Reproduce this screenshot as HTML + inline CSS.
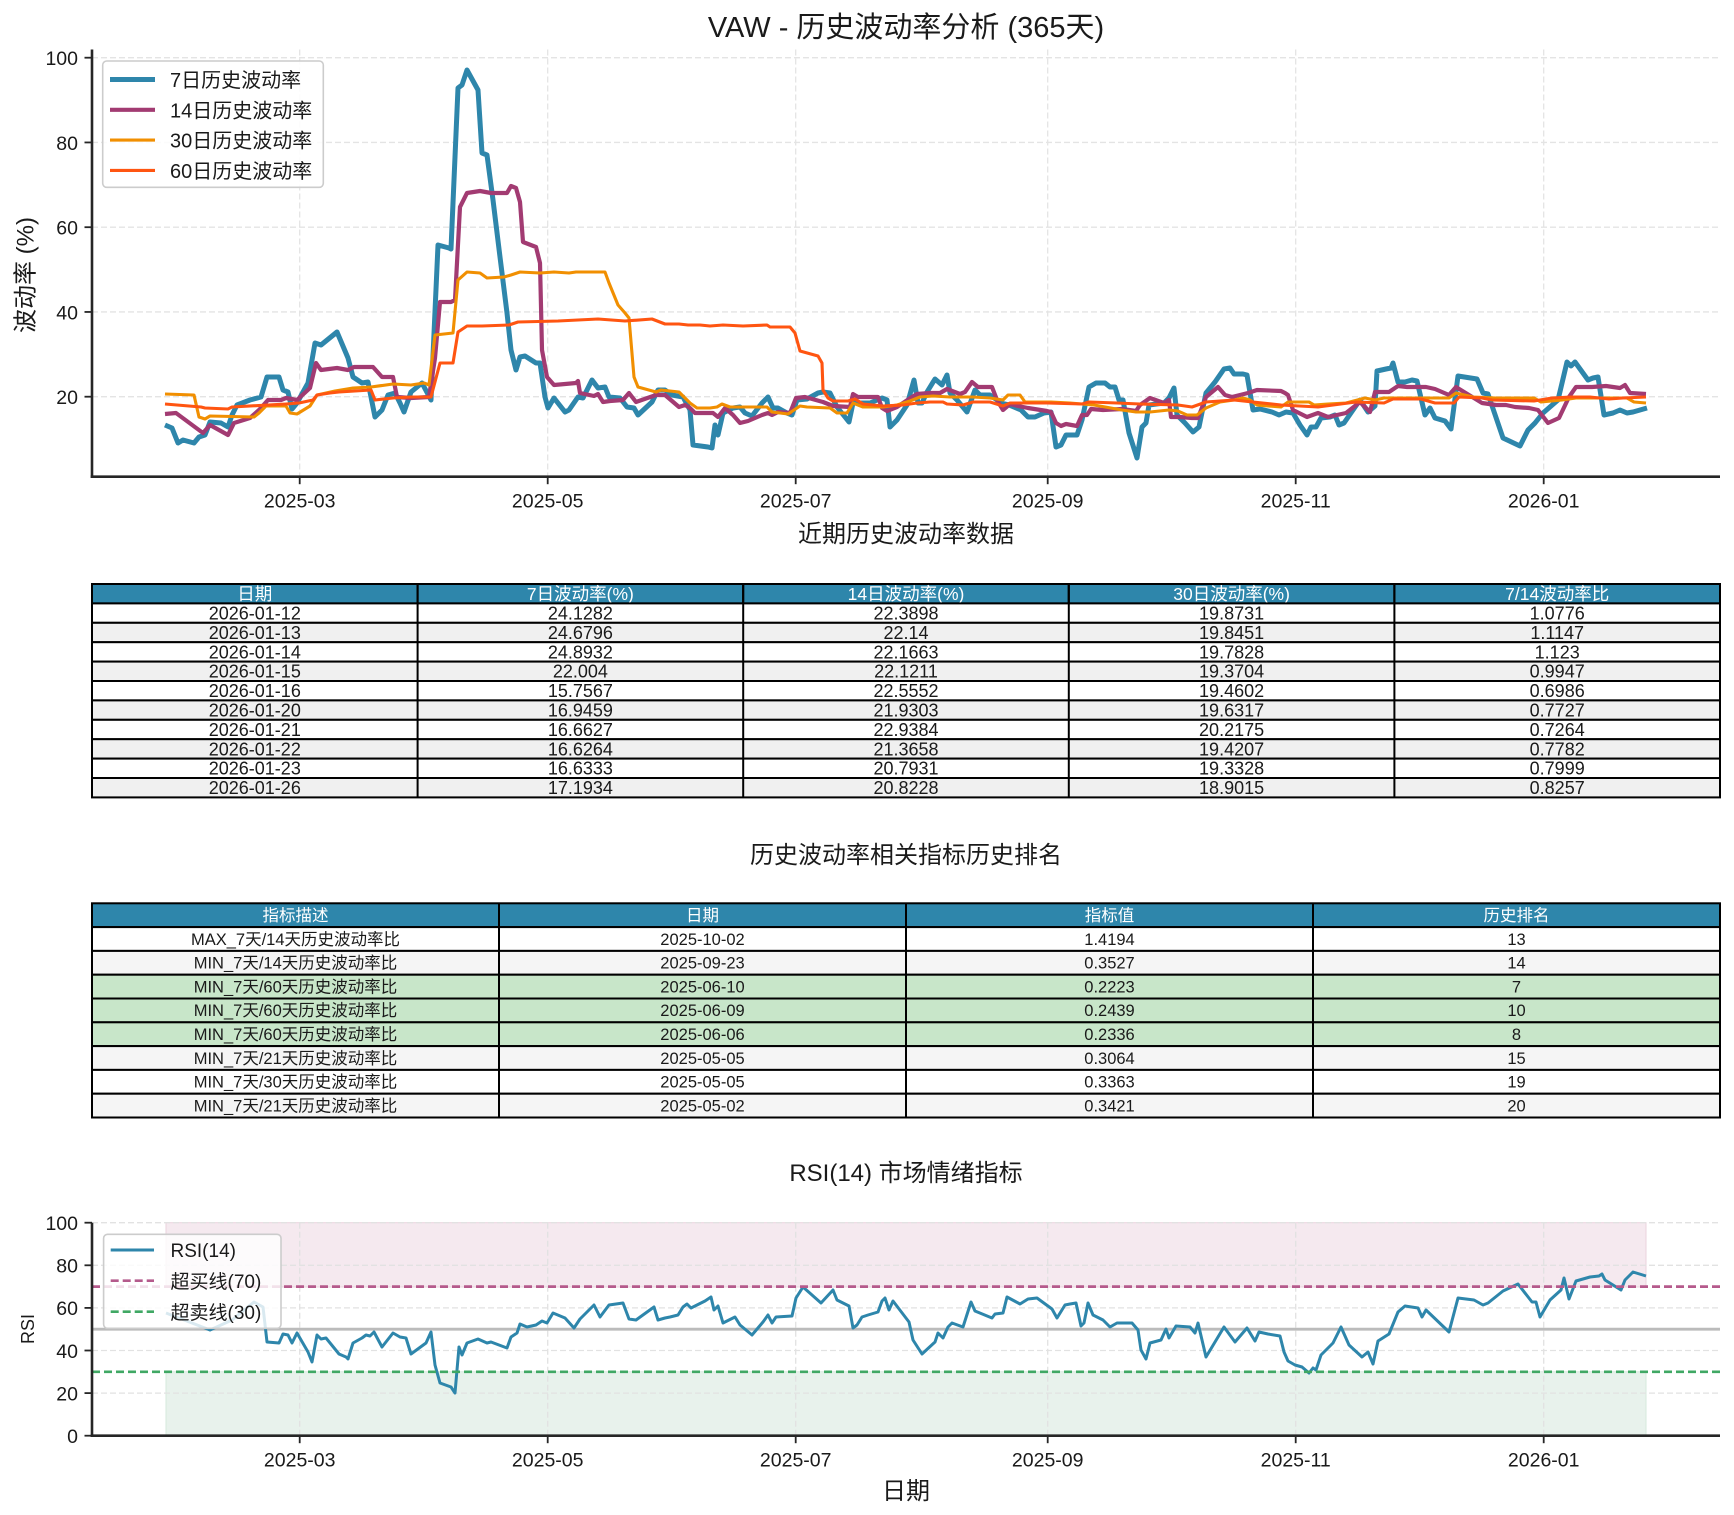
<!DOCTYPE html>
<html><head><meta charset="utf-8">
<style>
html,body{margin:0;padding:0;background:#fff;}
svg{display:block;}
text{font-family:"Liberation Sans","Noto Sans CJK SC",sans-serif;fill:#1a1a1a;}
</style></head>
<body>
<svg width="1734" height="1515" viewBox="0 0 1734 1515" xmlns="http://www.w3.org/2000/svg">
<rect x="0" y="0" width="1734" height="1515" fill="#fff"/>

<!-- ================= TOP CHART ================= -->
<text x="906" y="37" font-size="29" text-anchor="middle">VAW - 历史波动率分析 (365天)</text>

<!-- grid -->
<g stroke="#e4e4e4" stroke-width="1.3" stroke-dasharray="6,3" fill="none">
<line x1="92" y1="57.7" x2="1720" y2="57.7"/>
<line x1="92" y1="142.45" x2="1720" y2="142.45"/>
<line x1="92" y1="227.2" x2="1720" y2="227.2"/>
<line x1="92" y1="311.95" x2="1720" y2="311.95"/>
<line x1="92" y1="396.7" x2="1720" y2="396.7"/>
<line x1="299.7" y1="49.5" x2="299.7" y2="476.7"/>
<line x1="547.7" y1="49.5" x2="547.7" y2="476.7"/>
<line x1="795.7" y1="49.5" x2="795.7" y2="476.7"/>
<line x1="1047.7" y1="49.5" x2="1047.7" y2="476.7"/>
<line x1="1295.7" y1="49.5" x2="1295.7" y2="476.7"/>
<line x1="1543.7" y1="49.5" x2="1543.7" y2="476.7"/>
</g>

<!-- series -->
<g fill="none" stroke-linejoin="round" stroke-linecap="butt">
<polyline stroke="#2E86AB" stroke-width="5" points="165,425 172,428 178,443 183,440 194,443 199,437 205,435 210,422 221,423 228,427 232,415 237,405 250,400 261,397 267,377 279,377 283,390 288,392 292,409 297,403 308,383 315,343 321,345 337,332 348,358 353,377 362,383 368,382 375,417 382,410 388,395 395,393 400,403 404,412 411,392 422,383 431,400 438,245 449,248 451,249 458,88 462,85 467,70 478,90 482,153 487,155 493,200 500,257 507,313 511,350 516,370 520,357 525,356 536,363 540,363 545,397 548,408 554,398 565,412 569,410 578,397 583,398 592,380 598,388 605,387 609,397 620,398 627,407 634,408 638,415 652,402 658,390 665,390 672,395 683,397 690,410 693,445 708,447 712,448 715,425 718,435 723,413 733,408 740,407 745,413 752,416 762,403 768,397 773,408 778,408 787,413 792,415 797,400 807,399 818,393 823,392 830,393 837,407 849,422 853,403 860,403 870,403 882,398 887,400 890,427 897,420 907,405 914,380 918,403 922,403 927,392 935,379 942,385 947,375 950,393 957,400 967,412 975,390 980,395 990,395 997,400 1000,403 1009,405 1021,410 1028,417 1035,417 1044,413 1051,412 1056,447 1061,445 1066,435 1077,435 1082,420 1089,387 1096,383 1105,383 1110,387 1115,387 1119,400 1123,400 1129,433 1137,458 1142,427 1146,423 1149,405 1164,403 1169,398 1174,388 1177,415 1185,423 1193,432 1199,427 1206,393 1215,382 1224,369 1230,368 1234,374 1243,374 1247,375 1253,410 1260,409 1272,412 1279,415 1286,412 1293,413 1300,425 1307,435 1311,427 1316,427 1321,418 1330,417 1335,415 1339,425 1344,423 1353,410 1360,400 1368,412 1375,406 1377,371 1386,369 1391,368 1393,363 1398,382 1405,382 1412,380 1417,381 1425,415 1430,408 1435,418 1445,421 1451,429 1458,376 1477,379 1483,393 1488,394 1503,438 1520,446 1528,430 1535,423 1543,413 1558,400 1567,362 1571,366 1575,362 1588,380 1593,378 1598,377 1604,415 1613,413 1620,410 1627,413 1633,412 1647,408"/>
<polyline stroke="#A23B72" stroke-width="4.2" points="165,414 176,413 203,433 210,425 228,435 234,423 250,418 259,410 268,400 281,400 286,398 297,400 310,388 316,363 321,370 337,368 348,370 354,367 373,367 382,377 393,377 397,397 411,398 429,397 435,358 440,302 451,302 455,300 460,207 467,193 480,191 491,193 507,193 511,186 516,188 520,202 523,242 536,247 540,263 542,350 547,377 554,385 576,383 578,381 580,393 594,396 598,394 603,402 610,401 623,400 629,393 636,402 656,395 665,395 679,407 685,405 690,408 695,413 713,413 718,417 725,408 733,415 740,423 748,421 762,415 768,413 772,415 778,412 790,413 796,398 805,397 823,402 833,406 850,407 853,394 858,397 878,397 882,408 887,411 897,407 912,397 917,394 930,393 940,393 947,389 960,394 965,392 972,382 978,387 992,387 997,400 1003,410 1010,404 1018,406 1028,408 1047,411 1051,412 1056,423 1061,426 1066,424 1077,426 1082,415 1087,415 1091,409 1103,410 1122,409 1136,411 1140,405 1150,398 1164,403 1169,400 1171,417 1180,417 1192,418 1198,418 1206,397 1218,387 1225,395 1232,397 1248,393 1257,390 1281,391 1285,393 1288,395 1293,410 1307,417 1318,413 1328,417 1346,413 1360,402 1370,412 1375,392 1389,392 1398,386 1407,387 1426,387 1435,389 1449,395 1456,387 1482,403 1496,405 1506,405 1515,407 1529,408 1538,410 1548,423 1559,418 1569,397 1576,387 1592,387 1606,386 1620,388 1625,385 1630,393 1646,394"/>
<polyline stroke="#F18F01" stroke-width="3.1" points="165,394 194,395 199,417 205,419 210,416 254,417 259,413 266,406 286,406 290,413 297,414 310,406 317,395 335,391 353,388 371,387 393,384 411,385 424,383 429,385 435,335 453,333 458,280 467,272 480,273 487,278 504,277 511,275 520,272 540,273 554,272 569,273 576,272 605,272 609,283 618,305 625,313 629,318 634,377 638,387 656,392 661,390 679,392 690,403 697,408 710,408 717,407 722,404 730,407 743,407 767,407 772,412 788,414 800,406 807,407 830,408 837,413 847,413 853,403 863,407 883,407 897,405 910,401 920,397 933,396 950,397 963,397 973,397 990,398 1003,400 1008,395 1020,395 1025,402 1051,402 1070,403 1094,405 1122,410 1136,412 1150,412 1169,410 1178,411 1187,415 1197,415 1206,408 1220,402 1234,400 1243,398 1250,400 1257,405 1281,407 1288,402 1309,402 1314,405 1328,404 1346,403 1365,398 1375,400 1384,398 1403,398 1426,398 1449,398 1456,393 1473,397 1496,398 1515,398 1534,398 1541,402 1562,400 1576,398 1609,398 1627,398 1634,402 1646,403"/>
<polyline stroke="#FF5511" stroke-width="3.1" points="165,404 201,407 205,408 228,409 232,407 268,405 286,404 299,403 313,400 317,395 330,393 339,392 371,390 375,400 393,398 411,397 431,397 440,363 453,363 458,332 467,326 482,326 509,325 518,322 558,321 598,319 625,321 652,319 665,324 679,324 688,325 700,325 710,326 723,325 743,326 767,325 770,327 790,327 795,333 800,351 818,356 822,363 823,390 828,398 833,401 848,401 855,399 863,404 883,406 903,405 917,403 930,402 943,402 947,404 963,405 973,402 990,402 1003,406 1010,403 1047,403 1082,404 1089,402 1117,403 1140,404 1178,405 1192,407 1206,402 1234,400 1281,405 1318,407 1356,402 1384,403 1393,399 1421,399 1435,403 1454,403 1459,397 1482,398 1492,400 1534,401 1552,398 1571,397 1590,397 1609,399 1623,398 1646,397"/>
</g>

<!-- spines & ticks -->
<g stroke="#262626" stroke-width="2.6">
<line x1="92" y1="49.5" x2="92" y2="478"/>
<line x1="90.7" y1="476.7" x2="1720" y2="476.7"/>
</g>
<g stroke="#262626" stroke-width="1.8">
<line x1="84.5" y1="57.7" x2="92" y2="57.7"/>
<line x1="84.5" y1="142.45" x2="92" y2="142.45"/>
<line x1="84.5" y1="227.2" x2="92" y2="227.2"/>
<line x1="84.5" y1="311.95" x2="92" y2="311.95"/>
<line x1="84.5" y1="396.7" x2="92" y2="396.7"/>
<line x1="299.7" y1="476.7" x2="299.7" y2="484.2"/>
<line x1="547.7" y1="476.7" x2="547.7" y2="484.2"/>
<line x1="795.7" y1="476.7" x2="795.7" y2="484.2"/>
<line x1="1047.7" y1="476.7" x2="1047.7" y2="484.2"/>
<line x1="1295.7" y1="476.7" x2="1295.7" y2="484.2"/>
<line x1="1543.7" y1="476.7" x2="1543.7" y2="484.2"/>
</g>
<g font-size="19.5" text-anchor="end">
<text x="78" y="65">100</text>
<text x="78" y="149.8">80</text>
<text x="78" y="234.5">60</text>
<text x="78" y="319.3">40</text>
<text x="78" y="404">20</text>
</g>
<g font-size="19.5" text-anchor="middle">
<text x="299.7" y="507.5">2025-03</text>
<text x="547.7" y="507.5">2025-05</text>
<text x="795.7" y="507.5">2025-07</text>
<text x="1047.7" y="507.5">2025-09</text>
<text x="1295.7" y="507.5">2025-11</text>
<text x="1543.7" y="507.5">2026-01</text>
</g>
<text transform="translate(26,275) rotate(-90)" font-size="24" text-anchor="middle" dominant-baseline="central">波动率 (%)</text>

<!-- legend -->
<rect x="102.7" y="61" width="220.6" height="126.3" rx="4" fill="#fff" fill-opacity="0.85" stroke="#cccccc" stroke-width="1.6"/>
<line x1="110" y1="79.5" x2="155" y2="79.5" stroke="#2E86AB" stroke-width="5"/>
<line x1="110" y1="109.8" x2="155" y2="109.8" stroke="#A23B72" stroke-width="4.2"/>
<line x1="110" y1="140.1" x2="155" y2="140.1" stroke="#F18F01" stroke-width="3.1"/>
<line x1="110" y1="170.4" x2="155" y2="170.4" stroke="#FF5511" stroke-width="3.1"/>
<g font-size="20">
<text x="170" y="87">7日历史波动率</text>
<text x="170" y="117.3">14日历史波动率</text>
<text x="170" y="147.6">30日历史波动率</text>
<text x="170" y="177.9">60日历史波动率</text>
</g>

<!-- ================= TABLE 1 ================= -->
<text x="906" y="542" font-size="24" text-anchor="middle">近期历史波动率数据</text>
<g stroke="#000" stroke-width="2">
<rect x="92" y="584" width="325.6" height="19.4" fill="#2E86AB"/>
<rect x="417.6" y="584" width="325.6" height="19.4" fill="#2E86AB"/>
<rect x="743.2" y="584" width="325.6" height="19.4" fill="#2E86AB"/>
<rect x="1068.8" y="584" width="325.6" height="19.4" fill="#2E86AB"/>
<rect x="1394.4" y="584" width="325.6" height="19.4" fill="#2E86AB"/>
</g>
<g font-size="17.5" text-anchor="middle">
<text x="254.8" y="600" style="fill:#fff">日期</text>
<text x="580.4" y="600" style="fill:#fff">7日波动率(%)</text>
<text x="906" y="600" style="fill:#fff">14日波动率(%)</text>
<text x="1231.6" y="600" style="fill:#fff">30日波动率(%)</text>
<text x="1557.2" y="600" style="fill:#fff">7/14波动率比</text>
</g>
<g stroke="#000" stroke-width="2">
<rect x="92" y="603.4" width="1628" height="19.4" fill="#ffffff"/>
<rect x="92" y="622.8" width="1628" height="19.4" fill="#f0f0f0"/>
<rect x="92" y="642.2" width="1628" height="19.4" fill="#ffffff"/>
<rect x="92" y="661.6" width="1628" height="19.4" fill="#f0f0f0"/>
<rect x="92" y="681" width="1628" height="19.4" fill="#ffffff"/>
<rect x="92" y="700.4" width="1628" height="19.4" fill="#f0f0f0"/>
<rect x="92" y="719.8" width="1628" height="19.4" fill="#ffffff"/>
<rect x="92" y="739.2" width="1628" height="19.4" fill="#f0f0f0"/>
<rect x="92" y="758.6" width="1628" height="19.4" fill="#ffffff"/>
<rect x="92" y="778" width="1628" height="19.4" fill="#f0f0f0"/>
<line x1="417.6" y1="584" x2="417.6" y2="797.4"/>
<line x1="743.2" y1="584" x2="743.2" y2="797.4"/>
<line x1="1068.8" y1="584" x2="1068.8" y2="797.4"/>
<line x1="1394.4" y1="584" x2="1394.4" y2="797.4"/>
</g>
<g font-size="18" text-anchor="middle">
<text x="254.8" y="619.5">2026-01-12</text><text x="580.4" y="619.5">24.1282</text><text x="906" y="619.5">22.3898</text><text x="1231.6" y="619.5">19.8731</text><text x="1557.2" y="619.5">1.0776</text>
<text x="254.8" y="638.9">2026-01-13</text><text x="580.4" y="638.9">24.6796</text><text x="906" y="638.9">22.14</text><text x="1231.6" y="638.9">19.8451</text><text x="1557.2" y="638.9">1.1147</text>
<text x="254.8" y="658.3">2026-01-14</text><text x="580.4" y="658.3">24.8932</text><text x="906" y="658.3">22.1663</text><text x="1231.6" y="658.3">19.7828</text><text x="1557.2" y="658.3">1.123</text>
<text x="254.8" y="677.7">2026-01-15</text><text x="580.4" y="677.7">22.004</text><text x="906" y="677.7">22.1211</text><text x="1231.6" y="677.7">19.3704</text><text x="1557.2" y="677.7">0.9947</text>
<text x="254.8" y="697.1">2026-01-16</text><text x="580.4" y="697.1">15.7567</text><text x="906" y="697.1">22.5552</text><text x="1231.6" y="697.1">19.4602</text><text x="1557.2" y="697.1">0.6986</text>
<text x="254.8" y="716.5">2026-01-20</text><text x="580.4" y="716.5">16.9459</text><text x="906" y="716.5">21.9303</text><text x="1231.6" y="716.5">19.6317</text><text x="1557.2" y="716.5">0.7727</text>
<text x="254.8" y="735.9">2026-01-21</text><text x="580.4" y="735.9">16.6627</text><text x="906" y="735.9">22.9384</text><text x="1231.6" y="735.9">20.2175</text><text x="1557.2" y="735.9">0.7264</text>
<text x="254.8" y="755.3">2026-01-22</text><text x="580.4" y="755.3">16.6264</text><text x="906" y="755.3">21.3658</text><text x="1231.6" y="755.3">19.4207</text><text x="1557.2" y="755.3">0.7782</text>
<text x="254.8" y="774.7">2026-01-23</text><text x="580.4" y="774.7">16.6333</text><text x="906" y="774.7">20.7931</text><text x="1231.6" y="774.7">19.3328</text><text x="1557.2" y="774.7">0.7999</text>
<text x="254.8" y="794.1">2026-01-26</text><text x="580.4" y="794.1">17.1934</text><text x="906" y="794.1">20.8228</text><text x="1231.6" y="794.1">18.9015</text><text x="1557.2" y="794.1">0.8257</text>
</g>

<!-- ================= TABLE 2 ================= -->
<text x="906" y="863" font-size="24" text-anchor="middle">历史波动率相关指标历史排名</text>
<g stroke="#000" stroke-width="2">
<rect x="92" y="903.3" width="1628" height="23.8" fill="#2E86AB"/>
<rect x="92" y="927.1" width="1628" height="23.8" fill="#ffffff"/>
<rect x="92" y="950.9" width="1628" height="23.8" fill="#f5f5f5"/>
<rect x="92" y="974.7" width="1628" height="23.8" fill="#c8e6c9"/>
<rect x="92" y="998.5" width="1628" height="23.8" fill="#c8e6c9"/>
<rect x="92" y="1022.3" width="1628" height="23.8" fill="#c8e6c9"/>
<rect x="92" y="1046.1" width="1628" height="23.8" fill="#f5f5f5"/>
<rect x="92" y="1069.9" width="1628" height="23.8" fill="#ffffff"/>
<rect x="92" y="1093.7" width="1628" height="23.8" fill="#f5f5f5"/>
<line x1="499" y1="903.3" x2="499" y2="1117.5"/>
<line x1="906" y1="903.3" x2="906" y2="1117.5"/>
<line x1="1313" y1="903.3" x2="1313" y2="1117.5"/>
</g>
<g font-size="16.5" text-anchor="middle">
<text x="295.5" y="921" style="fill:#fff">指标描述</text><text x="702.5" y="921" style="fill:#fff">日期</text><text x="1109.5" y="921" style="fill:#fff">指标值</text><text x="1516.5" y="921" style="fill:#fff">历史排名</text>
<text x="295.5" y="944.8">MAX_7天/14天历史波动率比</text><text x="702.5" y="944.8">2025-10-02</text><text x="1109.5" y="944.8">1.4194</text><text x="1516.5" y="944.8">13</text>
<text x="295.5" y="968.6">MIN_7天/14天历史波动率比</text><text x="702.5" y="968.6">2025-09-23</text><text x="1109.5" y="968.6">0.3527</text><text x="1516.5" y="968.6">14</text>
<text x="295.5" y="992.4">MIN_7天/60天历史波动率比</text><text x="702.5" y="992.4">2025-06-10</text><text x="1109.5" y="992.4">0.2223</text><text x="1516.5" y="992.4">7</text>
<text x="295.5" y="1016.2">MIN_7天/60天历史波动率比</text><text x="702.5" y="1016.2">2025-06-09</text><text x="1109.5" y="1016.2">0.2439</text><text x="1516.5" y="1016.2">10</text>
<text x="295.5" y="1040">MIN_7天/60天历史波动率比</text><text x="702.5" y="1040">2025-06-06</text><text x="1109.5" y="1040">0.2336</text><text x="1516.5" y="1040">8</text>
<text x="295.5" y="1063.8">MIN_7天/21天历史波动率比</text><text x="702.5" y="1063.8">2025-05-05</text><text x="1109.5" y="1063.8">0.3064</text><text x="1516.5" y="1063.8">15</text>
<text x="295.5" y="1087.6">MIN_7天/30天历史波动率比</text><text x="702.5" y="1087.6">2025-05-05</text><text x="1109.5" y="1087.6">0.3363</text><text x="1516.5" y="1087.6">19</text>
<text x="295.5" y="1111.4">MIN_7天/21天历史波动率比</text><text x="702.5" y="1111.4">2025-05-02</text><text x="1109.5" y="1111.4">0.3421</text><text x="1516.5" y="1111.4">20</text>
</g>

<!-- ================= RSI CHART ================= -->
<text x="906" y="1181" font-size="24" text-anchor="middle">RSI(14) 市场情绪指标</text>

<!-- fills -->
<rect x="166" y="1222.7" width="1480" height="64.3" fill="#f5e9ef" stroke="#ead3de" stroke-width="1"/>
<rect x="166" y="1371.8" width="1480" height="63.9" fill="#e8f2ec" stroke="#d6eadc" stroke-width="1"/>

<!-- grid -->
<g stroke="#e2e2e2" stroke-width="1.3" stroke-dasharray="6,3" fill="none">
<line x1="92" y1="1222.7" x2="1720" y2="1222.7"/>
<line x1="92" y1="1265.3" x2="1720" y2="1265.3"/>
<line x1="92" y1="1307.9" x2="1720" y2="1307.9"/>
<line x1="92" y1="1350.5" x2="1720" y2="1350.5"/>
<line x1="92" y1="1393.1" x2="1720" y2="1393.1"/>
<line x1="299.7" y1="1222.7" x2="299.7" y2="1435.7"/>
<line x1="547.7" y1="1222.7" x2="547.7" y2="1435.7"/>
<line x1="795.7" y1="1222.7" x2="795.7" y2="1435.7"/>
<line x1="1047.7" y1="1222.7" x2="1047.7" y2="1435.7"/>
<line x1="1295.7" y1="1222.7" x2="1295.7" y2="1435.7"/>
<line x1="1543.7" y1="1222.7" x2="1543.7" y2="1435.7"/>
</g>

<line x1="92" y1="1329.2" x2="1720" y2="1329.2" stroke="#bbbbbb" stroke-width="2.8"/>
<polyline fill="none" stroke="#2E86AB" stroke-width="3" stroke-linejoin="round" points="166,1313 192,1323 210,1330 232,1320 254,1302 263,1307 267,1342 279,1343 283,1334 288,1335 292,1343 297,1333 308,1352 312,1362 317,1335 321,1339 326,1338 339,1354 346,1357 348,1359 353,1343 362,1338 366,1335 370,1336 374,1332 382,1347 393,1333 400,1337 406,1338 411,1354 426,1343 431,1332 435,1365 440,1383 451,1387 455,1393 459,1347 462,1355 467,1343 478,1339 487,1343 491,1342 507,1348 511,1337 517,1333 520,1324 527,1327 536,1325 542,1321 547,1323 553,1313 565,1318 574,1328 580,1319 594,1305 600,1317 609,1305 623,1303 629,1319 636,1320 654,1307 658,1320 665,1318 670,1317 678,1315 683,1307 687,1304 691,1308 697,1305 705,1301 711,1297 714,1310 718,1306 723,1323 735,1317 740,1325 752,1335 763,1322 768,1315 772,1323 776,1317 792,1316 796,1298 803,1287 821,1303 833,1290 837,1300 849,1306 853,1328 857,1325 862,1317 868,1315 878,1312 882,1301 885,1298 889,1310 893,1301 909,1322 913,1340 922,1354 935,1342 938,1333 943,1338 948,1327 952,1323 963,1327 971,1302 975,1311 992,1318 995,1314 1003,1313 1007,1297 1020,1304 1028,1299 1037,1298 1052,1309 1057,1318 1065,1305 1070,1304 1076,1303 1081,1326 1084,1323 1088,1303 1093,1315 1103,1320 1110,1327 1117,1323 1132,1323 1138,1330 1141,1350 1146,1359 1150,1343 1161,1340 1166,1329 1169,1338 1176,1326 1190,1327 1195,1333 1198,1323 1206,1357 1224,1327 1235,1342 1247,1328 1255,1341 1259,1332 1268,1334 1280,1336 1284,1352 1288,1361 1295,1365 1302,1367 1309,1373 1313,1368 1316,1370 1321,1355 1333,1343 1341,1327 1349,1345 1362,1357 1368,1352 1373,1364 1378,1341 1389,1334 1398,1312 1405,1306 1418,1308 1422,1317 1426,1310 1449,1332 1458,1298 1474,1300 1483,1305 1488,1303 1503,1291 1518,1284 1532,1302 1536,1302 1540,1317 1550,1300 1561,1290 1564,1278 1569,1299 1576,1281 1590,1277 1599,1276 1602,1274 1605,1280 1621,1290 1625,1280 1633,1272 1646,1276"/>
<line x1="92" y1="1286.6" x2="1720" y2="1286.6" stroke="#b55a8c" stroke-width="2.7" stroke-dasharray="8,4"/>
<line x1="92" y1="1371.8" x2="1720" y2="1371.8" stroke="#40a864" stroke-width="2.7" stroke-dasharray="8,4"/>

<!-- spines & ticks -->
<g stroke="#262626" stroke-width="2.6">
<line x1="92" y1="1222.7" x2="92" y2="1437"/>
<line x1="90.7" y1="1435.7" x2="1720" y2="1435.7"/>
</g>
<g stroke="#262626" stroke-width="1.8">
<line x1="84.5" y1="1222.7" x2="92" y2="1222.7"/>
<line x1="84.5" y1="1265.3" x2="92" y2="1265.3"/>
<line x1="84.5" y1="1307.9" x2="92" y2="1307.9"/>
<line x1="84.5" y1="1350.5" x2="92" y2="1350.5"/>
<line x1="84.5" y1="1393.1" x2="92" y2="1393.1"/>
<line x1="84.5" y1="1435.7" x2="92" y2="1435.7"/>
<line x1="299.7" y1="1435.7" x2="299.7" y2="1443.2"/>
<line x1="547.7" y1="1435.7" x2="547.7" y2="1443.2"/>
<line x1="795.7" y1="1435.7" x2="795.7" y2="1443.2"/>
<line x1="1047.7" y1="1435.7" x2="1047.7" y2="1443.2"/>
<line x1="1295.7" y1="1435.7" x2="1295.7" y2="1443.2"/>
<line x1="1543.7" y1="1435.7" x2="1543.7" y2="1443.2"/>
</g>
<g font-size="19.5" text-anchor="end">
<text x="78" y="1230">100</text>
<text x="78" y="1272.6">80</text>
<text x="78" y="1315.2">60</text>
<text x="78" y="1357.8">40</text>
<text x="78" y="1400.4">20</text>
<text x="78" y="1443">0</text>
</g>
<g font-size="19.5" text-anchor="middle">
<text x="299.7" y="1466.5">2025-03</text>
<text x="547.7" y="1466.5">2025-05</text>
<text x="795.7" y="1466.5">2025-07</text>
<text x="1047.7" y="1466.5">2025-09</text>
<text x="1295.7" y="1466.5">2025-11</text>
<text x="1543.7" y="1466.5">2026-01</text>
</g>
<text transform="translate(28,1329) rotate(-90)" font-size="18" text-anchor="middle" dominant-baseline="central">RSI</text>
<text x="906" y="1499" font-size="24" text-anchor="middle">日期</text>

<!-- RSI legend -->
<rect x="103.6" y="1234.3" width="177.4" height="94" rx="4" fill="#fff" fill-opacity="0.82" stroke="#cccccc" stroke-width="1.6"/>
<line x1="110.7" y1="1250" x2="154" y2="1250" stroke="#2E86AB" stroke-width="3"/>
<line x1="110.7" y1="1280.7" x2="154" y2="1280.7" stroke="#b55a8c" stroke-width="2.7" stroke-dasharray="8,4"/>
<line x1="110.7" y1="1311.7" x2="154" y2="1311.7" stroke="#40a864" stroke-width="2.7" stroke-dasharray="8,4"/>
<g font-size="19">
<text x="170.5" y="1257.2">RSI(14)</text>
<text x="170.5" y="1287.9">超买线(70)</text>
<text x="170.5" y="1318.9">超卖线(30)</text>
</g>
</svg>
</body></html>
